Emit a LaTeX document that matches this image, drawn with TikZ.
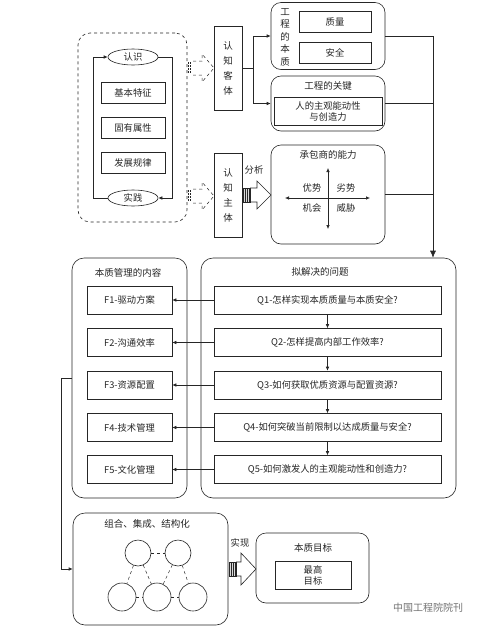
\documentclass[tikz,border=0pt]{standalone}
\usepackage{fontspec}
\setmainfont{Noto Sans CJK SC}
\usetikzlibrary{arrows.meta,shapes.geometric,calc}
\begin{document}
\begin{tikzpicture}[x=1pt,y=-1pt,
  font=\fontsize{9.3}{11}\selectfont,
  line width=0.6pt, color=black!85,
  tip/.style={-{Latex[length=4pt,width=3.5pt]}},
  bigtip/.style={-{Latex[length=7pt,width=6pt]}},
  sqbox/.style={draw, inner sep=0pt, align=center},
  rbox/.style={draw, rounded corners=10pt, inner sep=0pt},
  ell/.style={draw, ellipse, inner sep=0pt, minimum width=50pt, minimum height=16pt},
  vtext/.style={align=center, font=\fontsize{9.5}{15}\selectfont},
  title/.style={font=\fontsize{9.5}{11}\selectfont},
  circ/.style={draw, solid, circle, inner sep=0pt, line width=0.6pt},
  dlink/.style={dashed, line width=0.5pt}
]
\useasboundingbox (0,0) rectangle (482,630);
\fill[white] (0,0) rectangle (482,630);

% ---------- left dashed cognition loop ----------
\node[rbox, dashed, rounded corners=12pt, minimum width=109pt, minimum height=189pt] (dash) at (132.5,127.5) {};
\node[ell] (rs) at (133,57) {认识};
\node[ell] (sj) at (133,198) {实践};
\node[sqbox, minimum width=64pt, minimum height=21pt] (a1) at (133,92.5) {基本特征};
\node[sqbox, minimum width=64pt, minimum height=21pt] (a2) at (133,127.5) {固有属性};
\node[sqbox, minimum width=64pt, minimum height=21pt] (a3) at (133,163) {发展规律};
\coordinate (L) at (93,0);
\coordinate (R) at (172,0);
\draw[tip] (sj.west) -- (sj.west -| L) -- (rs.west -| L) -- (rs.west);
\draw[tip] (rs.east) -- (rs.east -| R) -- (sj.east -| R) -- (sj.east);

% ---------- cognition object / subject ----------
\node[sqbox, minimum width=28pt, minimum height=84pt, vtext] (kt) at (228,68) {认\\知\\客\\体};
\node[sqbox, minimum width=28pt, minimum height=84pt, vtext] (zt) at (228,195) {认\\知\\主\\体};

% dashed hollow arrows
\foreach \c in {68,196}{
  \draw[dashed, line width=0.5pt] (193,\c-7) -- (202,\c-7) -- (202,\c-14) -- (214,\c) -- (202,\c+14) -- (202,\c+7) -- (193,\c+7);
  \foreach \xx in {188,190.5}{
    \draw[line width=0.5pt, dash pattern=on 1.5pt off 1.5pt] (\xx,\c-6) -- (\xx,\c+6);
  }
}

% ---------- top right boxes ----------
\node[rbox, minimum width=114pt, minimum height=67pt] (gcbz) at (328,36) {};
\node[vtext, font=\fontsize{9.5}{12.5}\selectfont] (gcbzt) at (285,37) {工\\程\\的\\本\\质};
\node[sqbox, minimum width=72pt, minimum height=21pt] (zl) at (335,21.5) {质量};
\node[sqbox, minimum width=72pt, minimum height=21pt] (aq) at (335,52.5) {安全};

\node[rbox, minimum width=114pt, minimum height=55pt] (gcgj) at (328,103.5) {};
\node[title] (gcgjt) at (328,86) {工程的关键};
\node[sqbox, minimum width=108pt, minimum height=28pt] (rdz) at (328,111) {人的主观能动性\\与创造力};

\coordinate (J) at (253,68);
\draw (kt.east) -- (J);
\draw[tip] (J) |- (gcbz.west);
\draw[tip] (J) |- (gcgj.west);

% ---------- contractor ability ----------
\node[rbox, minimum width=114pt, minimum height=99pt] (cbs) at (328,194.5) {};
\node[title] (cbst) at (328,155) {承包商的能力};
\coordinate (vt) at (328,168);
\coordinate (vb) at (328,229);
\coordinate (hl) at (285,198);
\coordinate (hr) at (370,198);
\draw[{Latex[length=4pt,width=3.5pt]}-{Latex[length=4pt,width=3.5pt]}] (vt) -- (vb);
\draw[{Latex[length=4pt,width=3.5pt]}-{Latex[length=4pt,width=3.5pt]}] (hl) -- (hr);
\node (ys) at (312,188) {优势};
\node (ls) at (346,188) {劣势};
\node (jh) at (312,208) {机会};
\node (wx) at (346,208) {威胁};

% analysis hollow arrow
\node (fx) at (254,170) {分析};
\draw[fill=white] (250,188) -- (257,188) -- (257,181) -- (271,195) -- (257,209) -- (257,202) -- (250,202);
\draw[fill=black!15] (243,188) rectangle (250,202);
\foreach \xx in {245,247,249}{\draw[line width=0.5pt] (\xx,188) -- (\xx,202);}

% ---------- right collector line ----------
\node[rbox, rounded corners=12pt, minimum width=255pt, minimum height=240pt] (nj) at (328.5,378) {};
\coordinate (col) at (433,0);
\draw[bigtip] (gcbz.east) -| (nj.north -| col);
\draw (gcgj.east) -- (gcgj.east -| col);
\draw (cbs.east) -- (cbs.east -| col);

% ---------- problems ----------
\node[title] (njt) at (320,272) {拟解决的问题};
\node[sqbox, minimum width=227pt, minimum height=28pt] (q1) at (327.5,300) {Q1-怎样实现本质质量与本质安全?};
\node[sqbox, minimum width=227pt, minimum height=28pt] (q2) at (327.5,342.5) {Q2-怎样提高内部工作效率?};
\node[sqbox, minimum width=227pt, minimum height=28pt] (q3) at (327.5,385) {Q3-如何获取优质资源与配置资源?};
\node[sqbox, minimum width=227pt, minimum height=28pt] (q4) at (327.5,427.5) {Q4-如何突破当前限制以达成质量与安全?};
\node[sqbox, minimum width=227pt, minimum height=28pt] (q5) at (327.5,469.5) {Q5-如何激发人的主观能动性和创造力?};
\draw[tip] (q1.south) -- (q2.north);
\draw[tip] (q2.south) -- (q3.north);
\draw[tip] (q3.south) -- (q4.north);
\draw[tip] (q4.south) -- (q5.north);

% ---------- management content ----------
\node[rbox, rounded corners=12pt, minimum width=115pt, minimum height=240pt] (bz) at (129.5,378) {};
\node[title] (bzt) at (128,273) {本质管理的内容};
\node[sqbox, minimum width=85pt, minimum height=28pt] (f1) at (129.5,300) {F1-驱动方案};
\node[sqbox, minimum width=85pt, minimum height=28pt] (f2) at (129.5,342.5) {F2-沟通效率};
\node[sqbox, minimum width=85pt, minimum height=28pt] (f3) at (129.5,385) {F3-资源配置};
\node[sqbox, minimum width=85pt, minimum height=28pt] (f4) at (129.5,427.5) {F4-技术管理};
\node[sqbox, minimum width=85pt, minimum height=28pt] (f5) at (129.5,469.5) {F5-文化管理};
\draw[tip] (q1.west) -- (f1.east);
\draw[tip] (q2.west) -- (f2.east);
\draw[tip] (q3.west) -- (f3.east);
\draw[tip] (q4.west) -- (f4.east);
\draw[tip] (q5.west) -- (f5.east);

% ---------- combination ----------
\node[rbox, rounded corners=12pt, minimum width=155pt, minimum height=112pt] (zh) at (150.5,569) {};
\node[title] (zht) at (147,524) {组合、集成、结构化};
\draw[tip] (bz.west) -- ++(-10,0) |- (zh.west);
\node[circ, minimum size=26pt] (c1) at (138,553) {};
\node[circ, minimum size=26pt] (c2) at (178,553) {};
\node[circ, minimum size=28pt] (c3) at (122,597) {};
\node[circ, minimum size=28pt] (c4) at (157,597) {};
\node[circ, minimum size=28pt] (c5) at (193,597) {};
\draw[dlink] (c1) -- (c2);
\draw[dlink] (c3) -- (c4);
\draw[dlink] (c4) -- (c5);
\draw[dlink] (c1) -- (c3);
\draw[dlink] (c1) -- (c4);
\draw[dlink] (c2) -- (c4);
\draw[dlink] (c2) -- (c5);

% realize arrow
\node (sx) at (240,543) {实现};
\draw[fill=white] (236,562) -- (241,562) -- (241,553) -- (256,569) -- (241,585) -- (241,576) -- (236,576);
\draw[fill=black!15] (229,562) rectangle (236,576);
\foreach \xx in {231,233,235}{\draw[line width=0.5pt] (\xx,562) -- (\xx,576);}

% ---------- essential goal ----------
\node[rbox, minimum width=113pt, minimum height=70pt] (mb) at (312.5,568) {};
\node[title] (mbt) at (313,548) {本质目标};
\node[sqbox, minimum width=76pt, minimum height=28pt] (zg) at (313,575) {最高\\目标};

% watermark
\node[text=black!55, font=\fontsize{10}{12}\selectfont] (wm) at (428,608) {中国工程院院刊};
\end{tikzpicture}
\end{document}
